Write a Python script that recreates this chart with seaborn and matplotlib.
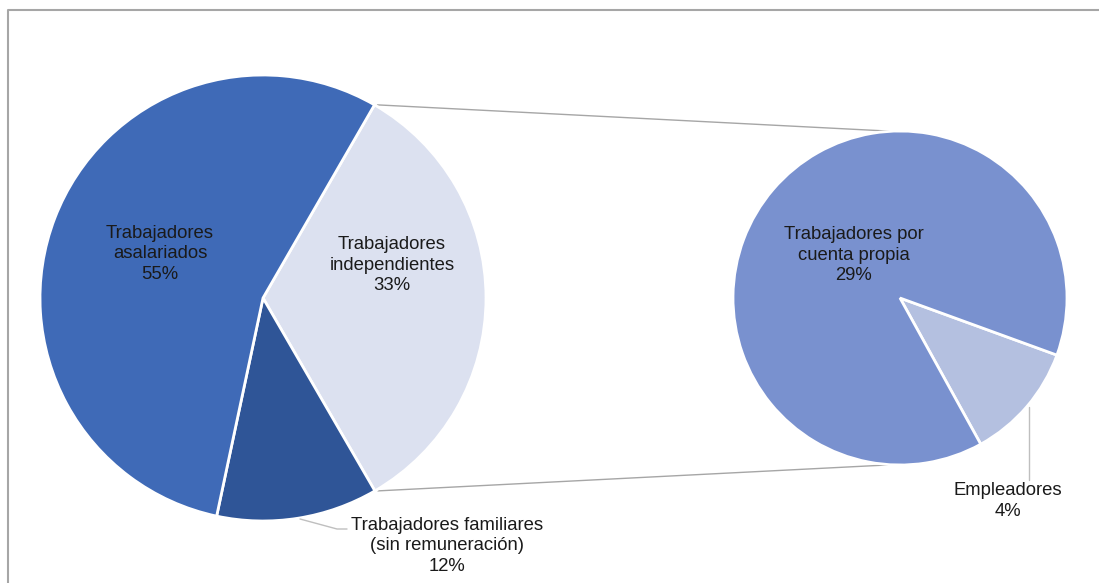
import numpy as np
import matplotlib
matplotlib.use("Agg")
import matplotlib.pyplot as plt
from matplotlib.lines import Line2D
import seaborn as sns

# main pie: employment categories
main_labels = ["Trabajadores\nindependientes", "Trabajadores familiares\n(sin remuneración)", "Trabajadores\nasalariados"]
main_values = [33.3, 11.7, 55.0]
main_pct = ["33%", "12%", "55%"]

# second pie: breakdown of "independientes"
sub_labels = ["Empleadores", "Trabajadores por\ncuenta propia"]
sub_values = [3.8, 29.5]
sub_pct = ["4%", "29%"]

main_colors = ["#DCE1F0", "#2F5597", "#3F6AB7"]
sub_colors = ["#B4C0E0", "#7991CF"]

sns.set_theme(style="white")
plt.rcParams["font.family"] = ["Liberation Sans", "DejaVu Sans"]

W, H = 1099, 583
fig = plt.figure(figsize=(W / 100, H / 100), dpi=100)
ax = fig.add_axes([0, 0, 1, 1])

# pie geometry (pixels, y measured from bottom)
cL, rL = (263, H - 298), 223
cR, rR = (900, H - 298), 167
start_main = 60
start_sub = -20

wedge_style = dict(edgecolor="white", linewidth=2)
ax.pie(main_values, colors=main_colors, startangle=start_main, counterclock=False,
       center=cL, radius=rL, wedgeprops=wedge_style)
ax.pie(sub_values, colors=sub_colors, startangle=start_sub, counterclock=False,
       center=cR, radius=rR, wedgeprops=wedge_style)

# connector lines between the split wedge and the second pie
span = main_values[0] / sum(main_values) * 360
a_top = np.deg2rad(start_main)
a_bot = np.deg2rad(start_main - span)
for a, b in [(a_top, np.deg2rad(93)), (a_bot, np.deg2rad(-93))]:
    ax.plot([cL[0] + rL * np.cos(a) + 3, cR[0] + rR * np.cos(b)],
            [cL[1] + rL * np.sin(a), cR[1] + rR * np.sin(b)],
            color="#A6A6A6", lw=1, zorder=0)

# data labels
fs = 13.3
ls = 1.3
label_pos_main = [(392, 265), (447, 546), (160, 254)]
label_pos_sub = [(1008, 501), (854, 255)]
for lab, pct, (x, y) in zip(main_labels, main_pct, label_pos_main):
    ax.text(x, H - y, f"{lab}\n{pct}", ha="center", va="center", fontsize=fs,
            color="#1A1A1A", linespacing=ls)
for lab, pct, (x, y) in zip(sub_labels, sub_pct, label_pos_sub):
    ax.text(x, H - y, f"{lab}\n{pct}", ha="center", va="center", fontsize=fs,
            color="#1A1A1A", linespacing=ls)

# leader lines
ax.plot([300, 337, 347], [H - 519, H - 529, H - 529], color="#BFBFBF", lw=1)
ax.plot([1029, 1029], [H - 407, H - 480], color="#BFBFBF", lw=1)

ax.set_xlim(0, W)
ax.set_ylim(0, H)
ax.set_aspect("equal")
ax.axis("off")

# chart frame (top and left edges visible)
fig.add_artist(Line2D([7.5 / W, 7.5 / W, 1], [0, 1 - 10 / H, 1 - 10 / H],
                      transform=fig.transFigure, color="#A6A6A6", lw=1.5))

fig.savefig("out.png", dpi=100)
